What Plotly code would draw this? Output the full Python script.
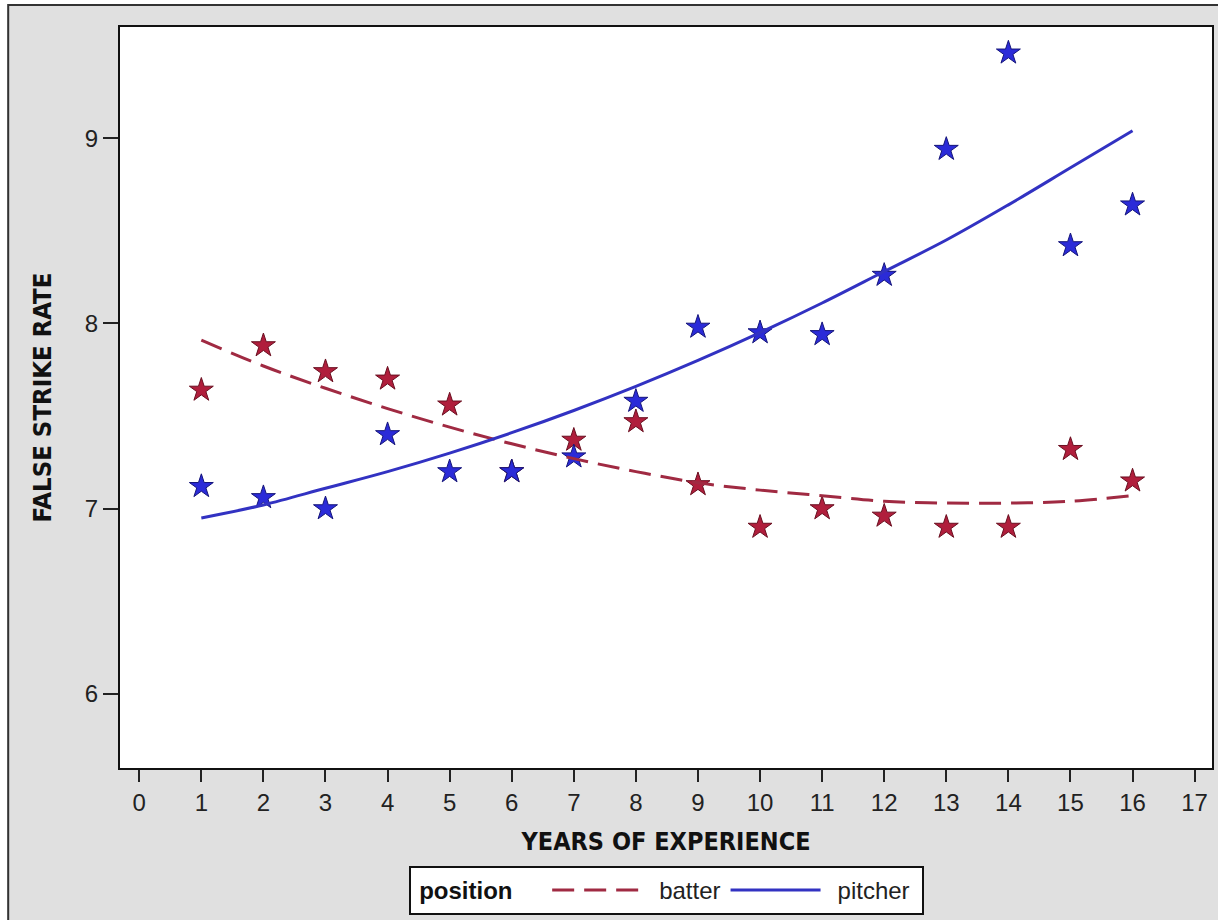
import plotly.graph_objects as go

# ---- data ----
years = list(range(1, 17))
batter_rate = [7.64, 7.88, 7.74, 7.70, 7.56, 7.20, 7.37, 7.47, 7.13, 6.90, 7.00, 6.96, 6.90, 6.90, 7.32, 7.15]
pitcher_rate = [7.12, 7.06, 7.00, 7.40, 7.20, 7.20, 7.28, 7.58, 7.98, 7.95, 7.94, 8.26, 8.94, 9.46, 8.42, 8.64]
batter_fit = [7.91, 7.77, 7.65, 7.54, 7.44, 7.35, 7.27, 7.20, 7.14, 7.10, 7.07, 7.04, 7.03, 7.03, 7.04, 7.07]
pitcher_fit = [6.95, 7.02, 7.11, 7.20, 7.30, 7.41, 7.53, 7.66, 7.80, 7.95, 8.11, 8.28, 8.45, 8.64, 8.84, 9.04]
series_names = ["batter", "pitcher"]
x_ticks = list(range(0, 18))
y_ticks = [6, 7, 8, 9]

RED = "#B01E3C"
RED_LINE = "#A02A42"
BLUE = "#2B2BD8"
BLUE_LINE = "#3232C2"
TICK_FONT = "Liberation Sans, Arial, sans-serif"
BOLD_FONT = "Liberation Sans Narrow, DejaVu Sans Condensed, Arial Narrow, Liberation Sans, sans-serif"
NB = "\u00a0"

fig = go.Figure()

fig.add_trace(go.Scatter(
    x=years, y=batter_rate, mode="markers", showlegend=False,
    marker=dict(symbol="star", size=18, color=RED, line=dict(color="#6a0f20", width=1)),
))
fig.add_trace(go.Scatter(
    x=years, y=pitcher_rate, mode="markers", showlegend=False,
    marker=dict(symbol="star", size=18, color=BLUE, line=dict(color="#15157a", width=1)),
))
fig.add_trace(go.Scatter(
    x=years, y=batter_fit, mode="lines", name="\u2002" + series_names[0],
    line=dict(color=RED_LINE, width=3, dash="22px,10px", shape="spline", smoothing=1.0),
))
fig.add_trace(go.Scatter(
    x=years, y=pitcher_fit, mode="lines", name="\u2002" + series_names[1] + NB,
    line=dict(color=BLUE_LINE, width=3, shape="spline", smoothing=1.0),
))

L, T, R, B = 120, 27, 1214, 768
W, H = 1218, 920
pw, ph = R - L, B - T


def px(xp):
    return (xp - L) / pw


def py(yp):
    return (B - yp) / ph


fig.update_layout(
    width=W, height=H,
    margin=dict(l=L, r=W - R, t=T, b=H - B, pad=0),
    paper_bgcolor="#e0e0e0",
    plot_bgcolor="white",
    font=dict(family=TICK_FONT, size=24, color="#222222"),
    xaxis=dict(
        range=[-0.31, 17.28], tickmode="array", tickvals=x_ticks,
        showgrid=False, zeroline=False,
        showline=True, mirror=True, linecolor="#111111", linewidth=2,
        ticks="outside", ticklen=12, tickwidth=2, tickcolor="#222222",
        ticklabelstandoff=0,
        tickfont=dict(family=TICK_FONT, size=24, color="#222222"),
        title=dict(text="<b>YEARS OF EXPERIENCE</b>", standoff=18,
                   font=dict(family=BOLD_FONT, size=25, color="#111111")),
    ),
    yaxis=dict(
        range=[5.6, 9.6], tickmode="array", tickvals=y_ticks,
        showgrid=False, zeroline=False,
        showline=True, mirror=True, linecolor="#111111", linewidth=2,
        ticks="outside", ticklen=15, tickwidth=2, tickcolor="#222222",
        ticklabelstandoff=0,
        tickfont=dict(family=TICK_FONT, size=24, color="#222222"),
        title=dict(text="<b>FALSE STRIKE RATE</b>", standoff=26,
                   font=dict(family=BOLD_FONT, size=25.5, color="#111111")),
    ),
    legend=dict(
        orientation="h", x=0.5, xanchor="center", y=py(866), yanchor="top",
        bgcolor="white", bordercolor="#111111", borderwidth=2,
        title=dict(text=NB + "<b>position</b>" + NB * 4, side="left",
                   font=dict(family=TICK_FONT, size=24, color="#111111")),
        font=dict(family=TICK_FONT, size=24, color="#222222"),
        itemwidth=90,
        tracegroupgap=0,
    ),
    shapes=[
        # white strips outside the outer frame
        dict(type="rect", xref="paper", yref="paper",
             x0=px(-20), x1=px(7), y0=py(960), y1=py(-20),
             line=dict(width=0), fillcolor="white", layer="below"),
        dict(type="rect", xref="paper", yref="paper",
             x0=px(-20), x1=px(1240), y0=py(4), y1=py(-20),
             line=dict(width=0), fillcolor="white", layer="below"),
        # outer frame
        dict(type="rect", xref="paper", yref="paper",
             x0=px(8), x1=px(1240), y0=py(5), y1=py(960),
             line=dict(color="#333333", width=2), fillcolor="rgba(0,0,0,0)", layer="below"),
    ],
)

fig.write_html(
    "out.html",
    config={"displayModeBar": False},
    post_script="document.body.style.margin='0';document.body.style.overflow='hidden';",
)
